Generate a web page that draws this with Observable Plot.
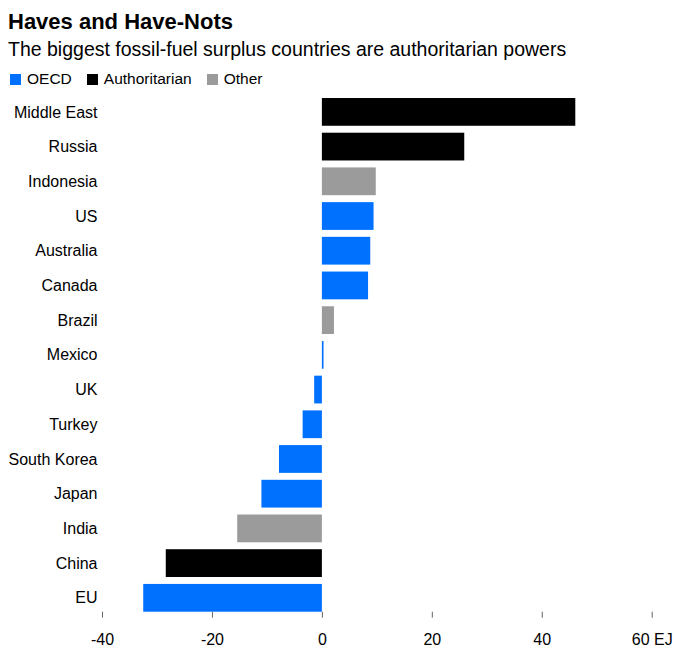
<!DOCTYPE html>
<html>
<head>
<meta charset="utf-8">
<script src="https://cdn.jsdelivr.net/npm/d3@7"></script>
<script src="https://cdn.jsdelivr.net/npm/@observablehq/plot@0.6"></script>
<style>
  body { margin: 0; background: #fff; font-family: "Liberation Sans", Arial, sans-serif; color: #000; }
  #chart { position: relative; width: 675px; height: 660px; overflow: hidden; }
  #plot { position: absolute; left: 0; top: 0; }
  .title { position: absolute; left: 8px; top: 8.7px; font-size: 22px; line-height: 26px; font-weight: bold; white-space: nowrap; }
  .subtitle { position: absolute; left: 8px; top: 37.3px; font-size: 19.5px; line-height: 24px; white-space: nowrap; }
  #legend { position: absolute; left: 10px; top: 62.5px; }
  #legend, #legend div { font-family: "Liberation Sans", Arial, sans-serif !important; font-size: 15.5px !important; color: #000 !important; margin-top: 0 !important; margin-bottom: 0 !important; }
  #legend .lg-swatch { margin-right: 15px !important; }
  #legend .lg-swatch > svg { margin-right: 6px !important; }
</style>
</head>
<body>
<div id="chart">
  <div id="plot"></div>
  <div class="title">Haves and Have-Nots</div>
  <div class="subtitle">The biggest fossil-fuel surplus countries are authoritarian powers</div>
  <div id="legend"></div>
</div>
<script>
// Net fossil-fuel surplus (+) or deficit (-), exajoules
const countries = ["Middle East", "Russia", "Indonesia", "US", "Australia", "Canada", "Brazil", "Mexico", "UK", "Turkey", "South Korea", "Japan", "India", "China", "EU"];
const values = [46.1, 25.9, 9.8, 9.4, 8.8, 8.4, 2.2, 0.3, -1.4, -3.5, -7.8, -11.0, -15.4, -28.4, -32.5];
const groups = ["Authoritarian", "Authoritarian", "Other", "OECD", "OECD", "OECD", "Other", "OECD", "OECD", "OECD", "OECD", "OECD", "Other", "Authoritarian", "OECD"];

const groupNames = ["OECD", "Authoritarian", "Other"];
const groupColors = ["#0070ff", "#000000", "#9b9b9b"];
const xTicks = [-40, -20, 0, 20, 40, 60];

const data = countries.map((c, i) => ({country: c, value: values[i], group: groups[i]}));
const font = "'Liberation Sans', Arial, sans-serif";

const plot = Plot.plot({
  width: 675,
  height: 660,
  marginTop: 98,
  marginBottom: 48.3,
  marginLeft: 102,
  marginRight: 23.3,
  style: {fontFamily: font, fontSize: "16px", color: "#000", background: "transparent"},
  x: {domain: [-40, 60]},
  y: {domain: countries, paddingInner: 0.2, paddingOuter: 0, round: false},
  color: {domain: groupNames, range: groupColors},
  marks: [
    Plot.barX(data, {x: "value", y: "country", fill: "group"}),
    Plot.axisY({tickSize: 0, tickPadding: 5, label: null, fill: "#000"}),
    Plot.axisX({
      ticks: xTicks,
      tickSize: 6,
      tickPadding: 15,
      stroke: "#666",
      fill: "#000",
      label: null,
      tickFormat: d => d === 60 ? "60 EJ" : String(d)
    })
  ]
});
document.getElementById("plot").append(plot);

const legend = Plot.legend({
  color: {type: "ordinal", domain: groupNames, range: groupColors},
  legend: "swatches",
  swatchSize: 11,
  className: "lg"
});
document.getElementById("legend").append(legend);
</script>
</body>
</html>
